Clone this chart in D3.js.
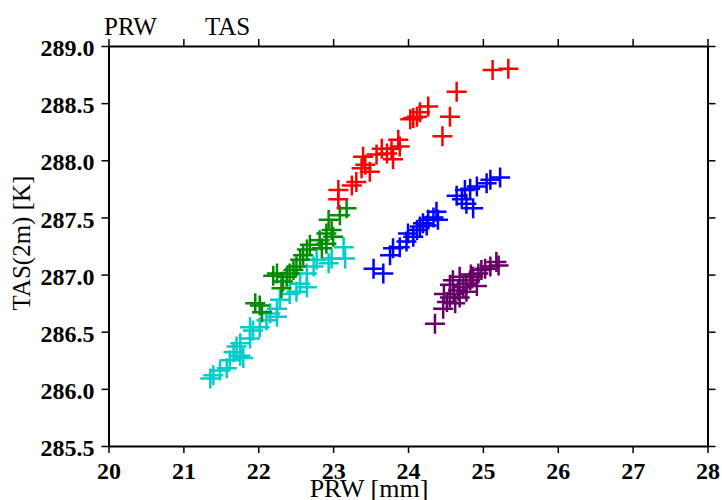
<!DOCTYPE html>
<html>
<head>
  <meta charset="UTF-8">
  <style>
    body { margin: 0; background: white; }
    svg { display: block; }
    text { font-family: "Liberation Serif", "Times New Roman", serif; fill: #000; }
  </style>
</head>
<body>
<svg></svg>
<script src="https://d3js.org/d3.v7.min.js"></script>
<script>
let width = 722, height = 500;

// series: [PRW mm, TAS K]
const redPts = [
  [25.13, 288.79], [25.34, 288.80], [24.65, 288.60], [24.56, 288.38], [24.46, 288.21],
  [24.27, 288.47], [24.16, 288.42], [24.07, 288.37], [24.03, 288.36], [24.12, 288.38],
  [23.87, 288.18], [23.89, 288.12], [23.78, 288.10], [23.65, 288.10], [23.72, 288.06],
  [23.80, 288.01], [23.40, 288.03], [23.43, 287.96], [23.49, 287.90], [23.38, 287.93],
  [23.31, 287.81], [23.25, 287.78], [23.07, 287.74], [23.07, 287.66], [23.58, 288.05]
];
const greenPts = [
  [23.18, 287.58], [23.09, 287.52], [22.94, 287.48], [22.98, 287.39], [22.91, 287.36],
  [23.00, 287.33], [22.82, 287.30], [22.91, 287.27], [22.85, 287.23], [22.69, 287.26],
  [22.60, 287.17], [22.65, 287.22], [22.56, 287.13], [22.51, 287.07], [22.47, 287.04],
  [22.42, 287.01], [22.25, 287.01], [22.20, 286.99], [22.33, 286.94], [22.38, 286.98],
  [22.02, 286.73], [21.96, 286.75], [22.05, 286.67], [22.31, 286.88]
];
const cyanPts = [
  [23.14, 287.24], [23.16, 287.14], [22.98, 287.14], [22.94, 287.10], [22.78, 287.13],
  [22.74, 287.07], [22.65, 287.01], [22.65, 286.89], [22.56, 286.92], [22.51, 286.85],
  [22.42, 286.83], [22.29, 286.78], [22.25, 286.70], [22.25, 286.63], [22.16, 286.66],
  [22.11, 286.60], [22.02, 286.54], [21.93, 286.51], [21.89, 286.54], [21.89, 286.44],
  [21.76, 286.40], [21.71, 286.37], [21.76, 286.29], [21.67, 286.32], [21.80, 286.27],
  [21.62, 286.25], [21.58, 286.18], [21.49, 286.16], [21.40, 286.12], [21.36, 286.09]
];
const bluePts = [
  [23.54, 287.05], [23.67, 287.01], [23.76, 287.17], [23.80, 287.23], [23.89, 287.24],
  [23.98, 287.29], [24.00, 287.36], [24.07, 287.33], [24.12, 287.39], [24.16, 287.42],
  [24.20, 287.45], [24.27, 287.48], [24.34, 287.50], [24.38, 287.55], [24.40, 287.48],
  [24.25, 287.43], [24.65, 287.69], [24.72, 287.66], [24.78, 287.62], [24.87, 287.58],
  [24.76, 287.74], [24.92, 287.77], [25.05, 287.80], [25.23, 287.85], [25.10, 287.83],
  [24.83, 287.75]
];
const purplePts = [
  [24.36, 286.57], [24.47, 286.70], [24.52, 286.76], [24.56, 286.80], [24.61, 286.83],
  [24.67, 286.86], [24.69, 286.98], [24.74, 286.89], [24.78, 286.92], [24.83, 286.95],
  [24.87, 286.98], [24.94, 287.01], [24.98, 287.04], [25.03, 287.05], [25.10, 287.07],
  [25.18, 287.11], [25.21, 287.08], [24.63, 286.75], [24.56, 286.91], [24.78, 286.85],
  [24.92, 286.90], [24.69, 286.80], [24.48, 286.83], [24.60, 286.95], [24.84, 287.00]
];

const seriesList = [
  { pts: cyanPts, color: "#00cccc" },
  { pts: greenPts, color: "#008c00" },
  { pts: redPts, color: "#ff0000" },
  { pts: bluePts, color: "#0000ff" },
  { pts: purplePts, color: "#660066" }
];

const xTicks = [20, 21, 22, 23, 24, 25, 26, 27, 28];
const yTicks = [285.5, 286.0, 286.5, 287.0, 287.5, 288.0, 288.5, 289.0];

let svg = d3.select("svg")
    .attr("width", width)
    .attr("height", height);

const x = d3.scaleLinear().domain([20, 28]).range([108.5, 707.5]);
const y = d3.scaleLinear().domain([285.5, 289.0]).range([446, 46]);

// axes on all four sides, ticks pointing out
const axisStyle = g => {
  g.select(".domain").attr("stroke-width", 2);
  g.selectAll(".tick line").attr("stroke-width", 1.5);
};

svg.append("g")
    .attr("transform", `translate(0,${y(285.5)})`)
    .call(d3.axisBottom(x).tickValues(xTicks).tickSize(7).tickSizeOuter(0).tickFormat(d3.format("d")))
    .call(axisStyle)
    .call(g => g.selectAll(".tick text")
        .attr("y", 33).attr("dy", 0)
        .style("font-family", "Liberation Serif").style("font-size", "24px").style("font-weight", "bold"));

svg.append("g")
    .attr("transform", `translate(0,${y(289.0)})`)
    .call(d3.axisTop(x).tickValues(xTicks).tickSize(7).tickSizeOuter(0).tickFormat(""))
    .call(axisStyle);

svg.append("g")
    .attr("transform", `translate(${x(20)},0)`)
    .call(d3.axisLeft(y).tickValues(yTicks).tickSize(7).tickSizeOuter(0).tickFormat(d3.format(".1f")))
    .call(axisStyle)
    .call(g => g.selectAll(".tick text")
        .attr("x", -14).attr("dy", "0.4em")
        .style("font-family", "Liberation Serif").style("font-size", "24px").style("font-weight", "bold"));

svg.append("g")
    .attr("transform", `translate(${x(28)},0)`)
    .call(d3.axisRight(y).tickValues(yTicks).tickSize(8).tickSizeOuter(0).tickFormat(""))
    .call(axisStyle);

// plus markers
const half = 10;
seriesList.forEach(s => {
  const g = svg.append("g")
      .attr("stroke", s.color)
      .attr("stroke-width", 2.5)
      .attr("fill", "none");
  g.selectAll("path")
    .data(s.pts)
    .join("path")
    .attr("d", d => {
      const px = x(d[0]), py = y(d[1]);
      return `M${px - half},${py}H${px + half}M${px},${py - half}V${py + half}`;
    });
});

// titles
svg.append("text")
    .attr("x", 104).attr("y", 35)
    .style("font-size", "25px")
    .text("PRW");

svg.append("text")
    .attr("x", 205).attr("y", 35)
    .style("font-size", "25px")
    .text("TAS");

svg.append("text")
    .attr("x", 369).attr("y", 497)
    .attr("text-anchor", "middle")
    .style("font-size", "26px")
    .text("PRW [mm]");

svg.append("text")
    .attr("transform", `translate(30,243) rotate(-90)`)
    .attr("text-anchor", "middle")
    .style("font-size", "25px")
    .text("TAS(2m) [K]");
</script>
</body>
</html>
